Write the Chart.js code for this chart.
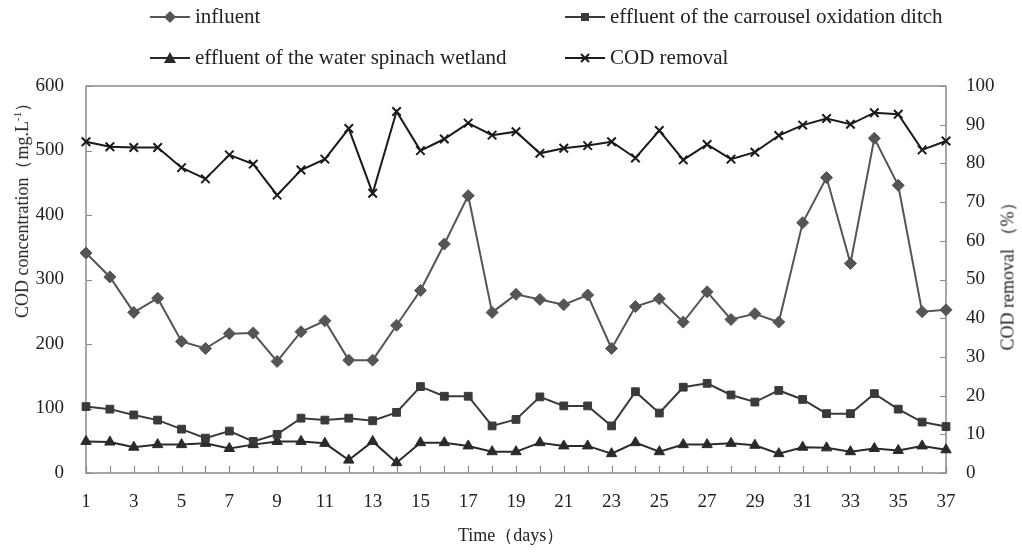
<!DOCTYPE html>
<html><head><meta charset="utf-8">
<script src="https://cdn.jsdelivr.net/npm/chart.js@4.4.1/dist/chart.umd.min.js"></script>
<style>
html,body{margin:0;padding:0;background:#fff;}
#wrap{position:relative;width:1022px;height:553px;overflow:hidden;}
#c{position:absolute;left:0;top:0;}
.leg{position:absolute;font-family:"Liberation Serif","Times New Roman",serif;font-size:21px;color:#222;white-space:nowrap;line-height:1;}
.legsvg{position:absolute;}
.ttl{position:absolute;font-family:"Liberation Serif","Times New Roman",serif;font-size:18px;color:#222;white-space:nowrap;line-height:1;}
</style></head>
<body>
<div id="wrap">
<canvas id="c" width="1022" height="553"></canvas>
</div>
<script>
// ---- data ----
const days = ["1","2","3","4","5","6","7","8","9","10","11","12","13","14","15","16","17","18","19","20","21","22","23","24","25","26","27","28","29","30","31","32","33","34","35","36","37"];
const influent = [341,304,249,271,204,193,216,217,173,219,236,175,175,229,283,355,430,249,277,269,261,276,193,258,270,234,281,238,247,234,388,458,325,519,446,250,253];
const carrousel = [103,99,90,82,68,54,65,49,60,85,82,85,81,94,134,119,119,73,83,118,104,104,73,126,93,133,139,121,110,128,114,92,92,123,99,79,72];
const wetland = [49,48,40,44,44,46,38,44,49,49,46,20,49,16,47,47,42,33,33,47,42,42,30,47,33,44,44,46,43,30,40,39,33,38,35,42,36];
const codRemoval = [85.6,84.3,84.1,84.1,78.9,76.0,82.2,79.8,71.8,78.3,81.1,89.0,72.3,93.4,83.3,86.3,90.4,87.3,88.2,82.6,83.9,84.6,85.6,81.4,88.5,80.9,84.9,81.1,82.9,87.2,89.9,91.6,90.1,93.1,92.7,83.5,85.8];
const leftTicks = [0,100,200,300,400,500,600];
const rightTicks = [0,10,20,30,40,50,60,70,80,90,100];
const seriesNames = ["influent","effluent of the carrousel oxidation ditch","effluent of the water spinach wetland","COD removal"];

const FONT = '"Liberation Serif","Times New Roman",serif';
const AX = '#8a8a8a';

const framePlugin = {
  id: 'frame',
  beforeDatasetsDraw(chart) {
    const {ctx, chartArea: a, scales} = chart;
    ctx.save();
    ctx.strokeStyle = AX;
    ctx.lineWidth = 1.5;
    ctx.strokeRect(a.left, a.top, a.right - a.left, a.bottom - a.top);
    ctx.lineWidth = 1.2;
    ctx.beginPath();
    // x ticks (inside, upward)
    scales.x.ticks.forEach((t, i) => {
      const px = Math.round(scales.x.getPixelForTick(i)) + 0.5;
      ctx.moveTo(px, a.bottom); ctx.lineTo(px, a.bottom - 7);
    });
    scales.y.ticks.forEach((t) => {
      const py = Math.round(scales.y.getPixelForValue(t.value)) + 0.5;
      ctx.moveTo(a.left, py); ctx.lineTo(a.left + 6, py);
    });
    scales.y1.ticks.forEach((t) => {
      const py = Math.round(scales.y1.getPixelForValue(t.value)) + 0.5;
      ctx.moveTo(a.right, py); ctx.lineTo(a.right - 6, py);
    });
    ctx.stroke();
    ctx.restore();
  }
};

const tickFont = {family: FONT, size: 19};
new Chart(document.getElementById('c'), {
  type: 'line',
  data: {
    labels: days,
    datasets: [
      {label: seriesNames[0], data: influent, yAxisID: 'y', borderColor: '#555', backgroundColor: '#555',
       pointStyle: 'rectRot', pointRadius: 6, pointBorderWidth: 1, borderWidth: 2},
      {label: seriesNames[1], data: carrousel, yAxisID: 'y', borderColor: '#3a3a3a', backgroundColor: '#3a3a3a',
       pointStyle: 'rect', pointRadius: 5.5, pointBorderWidth: 1, borderWidth: 2},
      {label: seriesNames[2], data: wetland, yAxisID: 'y', borderColor: '#2a2a2a', backgroundColor: '#2a2a2a',
       pointStyle: 'triangle', pointRadius: 6, pointBorderWidth: 1, borderWidth: 2},
      {label: seriesNames[3], data: codRemoval, yAxisID: 'y1', borderColor: '#1a1a1a', backgroundColor: '#1a1a1a',
       pointStyle: 'crossRot', pointRadius: 6, pointBorderWidth: 2, borderWidth: 2}
    ]
  },
  options: {
    responsive: false,
    animation: false,
    layout: {padding: {top: 86, left: 0, right: 0, bottom: 0}},
    plugins: {legend: {display: false}, tooltip: {enabled: false}},
    elements: {line: {tension: 0}},
    scales: {
      x: {
        type: 'category', offset: false,
        grid: {display: false}, border: {display: false},
        ticks: {font: tickFont, color: '#222', autoSkip: false, maxRotation: 0, padding: 10,
                callback: (v, i) => (i % 2 === 0 ? days[i] : '')},
        afterFit: s => { s.height = 80; }
      },
      y: {
        position: 'left', min: 0, max: 600,
        grid: {display: false}, border: {display: false},
        afterBuildTicks: s => { s.ticks = leftTicks.map(v => ({value: v})); },
        ticks: {font: tickFont, color: '#222', padding: 14},
        afterFit: s => { s.width = 86; }
      },
      y1: {
        position: 'right', min: 0, max: 100,
        grid: {display: false}, border: {display: false},
        afterBuildTicks: s => { s.ticks = rightTicks.map(v => ({value: v})); },
        ticks: {font: tickFont, color: '#222', padding: 12},
        afterFit: s => { s.width = 76; }
      }
    }
  },
  plugins: [framePlugin]
});

// ---- HTML legend & axis titles ----
const wrap = document.getElementById('wrap');
const markers = ['diamond','square','triangle','x'];
const legPos = [[150,17],[565,17],[150,58],[565,58]];
const cols = ['#555','#3a3a3a','#2a2a2a','#1a1a1a'];
function markerSvg(kind, col) {
  let m = '';
  if (kind === 'diamond') m = `<polygon points="20,2 26,8 20,14 14,8" fill="${col}"/>`;
  if (kind === 'square') m = `<rect x="16" y="4" width="8" height="8" fill="${col}"/>`;
  if (kind === 'triangle') m = `<polygon points="20,2 26,13 14,13" fill="${col}"/>`;
  if (kind === 'x') m = `<path d="M16,4 L24,12 M24,4 L16,12" stroke="${col}" stroke-width="2"/>`;
  return `<svg width="40" height="16" viewBox="0 0 40 16"><line x1="0" y1="8" x2="40" y2="8" stroke="${col}" stroke-width="2"/>${m}</svg>`;
}
seriesNames.forEach((n, i) => {
  const [x, y] = legPos[i];
  const s = document.createElement('div');
  s.className = 'legsvg';
  s.style.left = x + 'px'; s.style.top = (y - 8) + 'px';
  s.innerHTML = markerSvg(markers[i], cols[i]);
  wrap.appendChild(s);
  const t = document.createElement('div');
  t.className = 'leg';
  t.textContent = n;
  t.style.left = (x + 45) + 'px'; t.style.top = (y - 11) + 'px';
  wrap.appendChild(t);
});
function addTitle(html, cx, cy, rot) {
  const d = document.createElement('div');
  d.className = 'ttl';
  d.innerHTML = html;
  wrap.appendChild(d);
  const w = d.offsetWidth, h = d.offsetHeight;
  d.style.left = (cx - w / 2) + 'px';
  d.style.top = (cy - h / 2) + 'px';
  if (rot) d.style.transform = 'rotate(-90deg)';
}
addTitle('COD concentration（mg.L<sup style="font-size:11px;line-height:0">-1</sup>）', 22, 206, true);
addTitle('COD removal （%）', 1007, 272, true);
addTitle('Time（days）', 511, 535, false);
</script>
</body></html>
